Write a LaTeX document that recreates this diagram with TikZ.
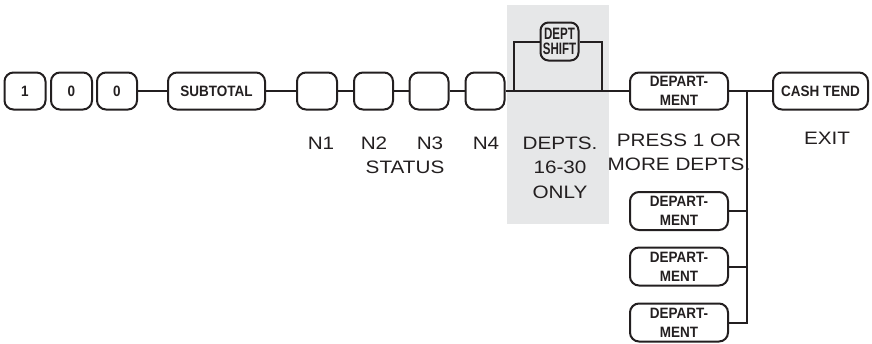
\documentclass[tikz,border=0pt]{standalone}
\usepackage{fontspec}
\setmainfont{Liberation Sans}
\newfontfamily\keyfont[FakeStretch=0.9]{Liberation Sans Bold}
\newfontfamily\shiftfont[FakeStretch=0.7]{Liberation Sans Bold}
\newfontfamily\labelfont[FakeStretch=1.15]{Liberation Sans}
\definecolor{panelgray}{RGB}{230,231,232}
\definecolor{ink}{RGB}{35,31,32}

\tikzset{
  key/.style={draw=ink, line width=2pt, rounded corners=9pt, minimum height=37pt, inner sep=0pt, align=center, text=ink, font=\keyfont\fontsize{15}{19}\selectfont},
  lbl/.style={inner sep=0pt, align=center, text=ink, font=\labelfont\fontsize{18}{24.5}\selectfont},
  wire/.style={draw=ink, line width=2pt}
}

\begin{document}
\begin{tikzpicture}[x=1pt,y=1pt,yscale=-1,xscale=1]
\useasboundingbox (0,0) rectangle (872,343); %set diagram left start at 0, and has height of 343

%Shape: Rectangle
\fill [panelgray] (507,5) rectangle (609,224);

% Key Nodes
\draw (25,91) node [key, minimum width=41pt] (k1) {1};
\draw (71.5,91) node [key, minimum width=41pt] (k0a) {0};
\draw (117,91) node [key, minimum width=40pt] (k0b) {0};
\draw (216.5,91) node [key, minimum width=97pt] (subtotal) {SUBTOTAL};
\draw (317,91) node [key, minimum width=40pt] (n1) {};
\draw (373.5,91) node [key, minimum width=39pt] (n2) {};
\draw (429,91) node [key, minimum width=39pt] (n3) {};
\draw (485,91) node [key, minimum width=39pt] (n4) {};
\draw (559.5,41.5) node [key, minimum width=38pt, minimum height=38pt, rounded corners=8pt, font=\shiftfont\fontsize{16.5}{15}\selectfont] (shift) {DEPT\\SHIFT};
\draw (679,91) node [key, minimum width=98pt] (dept) {DEPART-\\MENT};
\draw (820.5,91) node [key, minimum width=95pt] (cash) {CASH TEND};
\draw (679,211) node [key, minimum width=98pt, minimum height=38pt] (dept1) {DEPART-\\MENT};
\draw (679,266.5) node [key, minimum width=98pt, minimum height=38pt] (dept2) {DEPART-\\MENT};
\draw (679,322.5) node [key, minimum width=98pt, minimum height=38pt] (dept3) {DEPART-\\MENT};

%Straight Lines
\draw [wire] (k0b) -- (subtotal);
\draw [wire] (subtotal) -- (n1);
\draw [wire] (n1) -- (n2);
\draw [wire] (n2) -- (n3);
\draw [wire] (n3) -- (n4);
\draw [wire] (n4) -- (dept);
\draw [wire] (dept) -- (cash);
%Bypass
\coordinate (sl) at (514,91);
\coordinate (sr) at (602,91);
\draw [wire] (sl) |- (shift.west);
\draw [wire] (shift.east) -| (sr);
%Branch
\coordinate (jn) at (747,91);
\draw [wire] (jn) |- (dept3.east);
\draw [wire] (dept1.east) -- (dept1.east -| jn);
\draw [wire] (dept2.east) -- (dept2.east -| jn);

% Text Node
\draw (321,143) node [lbl] (ln1) {N1};
\draw (374,143) node [lbl] (ln2) {N2};
\draw (430,143) node [lbl] (ln3) {N3};
\draw (486,143) node [lbl] (ln4) {N4};
\draw (405,167) node [lbl] (lstatus) {STATUS};
\draw (560,167.5) node [lbl] (ldepts) {DEPTS.\\16-30\\ONLY};
\draw (679,152.5) node [lbl] (lpress) {PRESS 1 OR\\MORE DEPTS.};
\draw (827,138) node [lbl] (lexit) {EXIT};
\end{tikzpicture}
\end{document}
